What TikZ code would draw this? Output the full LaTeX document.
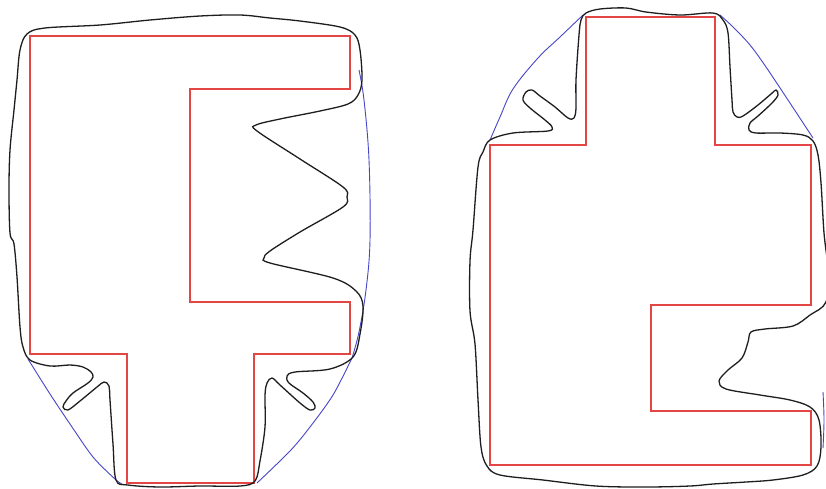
\documentclass[tikz,border=0pt]{standalone}
\begin{document}
\begin{tikzpicture}[x=1pt,y=-1pt,
  poly/.style={draw={rgb,255:red,228;green,70;blue,70},line width=1.1pt,line join=miter},
  contour/.style={draw={rgb,255:red,30;green,30;blue,30},line width=1.3pt},
  hull/.style={draw={rgb,255:red,70;green,70;blue,200},line width=0.9pt}]
\useasboundingbox[fill=white] (0,0) rectangle (826,488);
% ---------- left figure ----------
\draw[poly] (30,36) -- (350,36) -- (350,89) -- (190,89) -- (190,302) -- (350,302)
  -- (350,354) -- (254,354) -- (254,483) -- (127,483) -- (127,354) -- (30,354) -- cycle;
\draw[hull] plot[smooth,tension=0.6] coordinates {(359,70) (364,100) (369,160) (370,240) (366,290) (359,332) (352,358)};
\draw[hull] plot[smooth,tension=0.5] coordinates {(352,358) (333,395) (310,427) (290,451) (257,483)};
\draw[hull] plot[smooth,tension=0.5] coordinates {(28,359) (50,394) (70,424) (93,457) (115,479) (122,484)};
\draw[contour] plot[smooth cycle,tension=0.55] coordinates {
 (27,34) (45,28) (100,25) (150,20) (200,16) (240,15) (270,18) (300,21) (340,27) (355,35)
 (360,50) (362,80) (358,95) (348,104) (320,111) (280,119) (256,125) (257,131)
 (300,159) (343,187) (347,197) (343,207) (300,232) (270,251) (264,258) (270,263)
 (333,278) (356,291) (363,306) (360,334) (353,357) (330,369) (295,372) (287,376)
 (289,383) (303,393) (313,402) (315,408) (310,410) (300,403) (280,385) (272,378)
 (267,383) (265,395) (265,427) (260,461) (255,481) (240,486) (200,486) (160,487)
 (128,485) (116,480) (113,444) (110,400) (109,386) (104,382) (97,387) (80,401)
 (68,410) (63,407) (66,401) (73,393) (88,383) (93,377) (91,372) (83,367) (70,365)
 (50,366) (30,360) (23,347) (20,327) (17,277) (14,244)
 (10,233) (9,190) (10,150) (14,110) (17,80) (20,50)};
% ---------- right figure ----------
\draw[poly] (586,17) -- (715,17) -- (715,145) -- (811,145) -- (811,305) -- (651,305)
  -- (651,411) -- (811,411) -- (811,465) -- (490,465) -- (490,145) -- (586,145) -- cycle;
\draw[hull] plot[smooth,tension=0.6] coordinates {(490,140) (500,117) (513,89) (538,58) (560,37) (583,15)};
\draw[hull] plot[smooth,tension=0.6] coordinates {(720,15) (733,27) (750,45) (766,67) (786,97) (813,138)};
\draw[hull] plot[smooth,tension=0.6] coordinates {(823,392) (824,420) (823,448)};
\draw[contour] plot[smooth cycle,tension=0.55] coordinates {
 (586,13) (600,9) (626,8) (646,12) (680,15) (713,13) (723,20) (728,33) (730,67)
 (732,100) (733,112) (737,117) (743,116) (758,105) (771,94) (776,90) (778,95)
 (772,103) (758,116) (750,123) (749,130) (756,133) (780,133) (803,135) (813,141)
 (818,155) (821,183) (824,233)
 (828,270) (826,302) (810,315) (793,326) (765,329) (751,332) (748,342) (742,358)
 (728,370) (719,381) (726,389) (760,395) (790,400) (810,407) (819,420) (821,447)
 (817,466) (803,475) (773,480) (746,482) (713,484) (690,486) (646,487) (596,486)
 (543,480) (500,475) (487,466) (481,447) (478,400) (475,344) (470,311) (470,261)
 (473,230) (478,167) (483,152) (490,140) (513,133) (548,131) (552,127) (545,120)
 (530,108) (523,100) (526,92) (532,90) (540,96) (555,107) (568,118) (574,118)
 (576,108) (576,80) (579,35) (581,20)};
\end{tikzpicture}
\end{document}
